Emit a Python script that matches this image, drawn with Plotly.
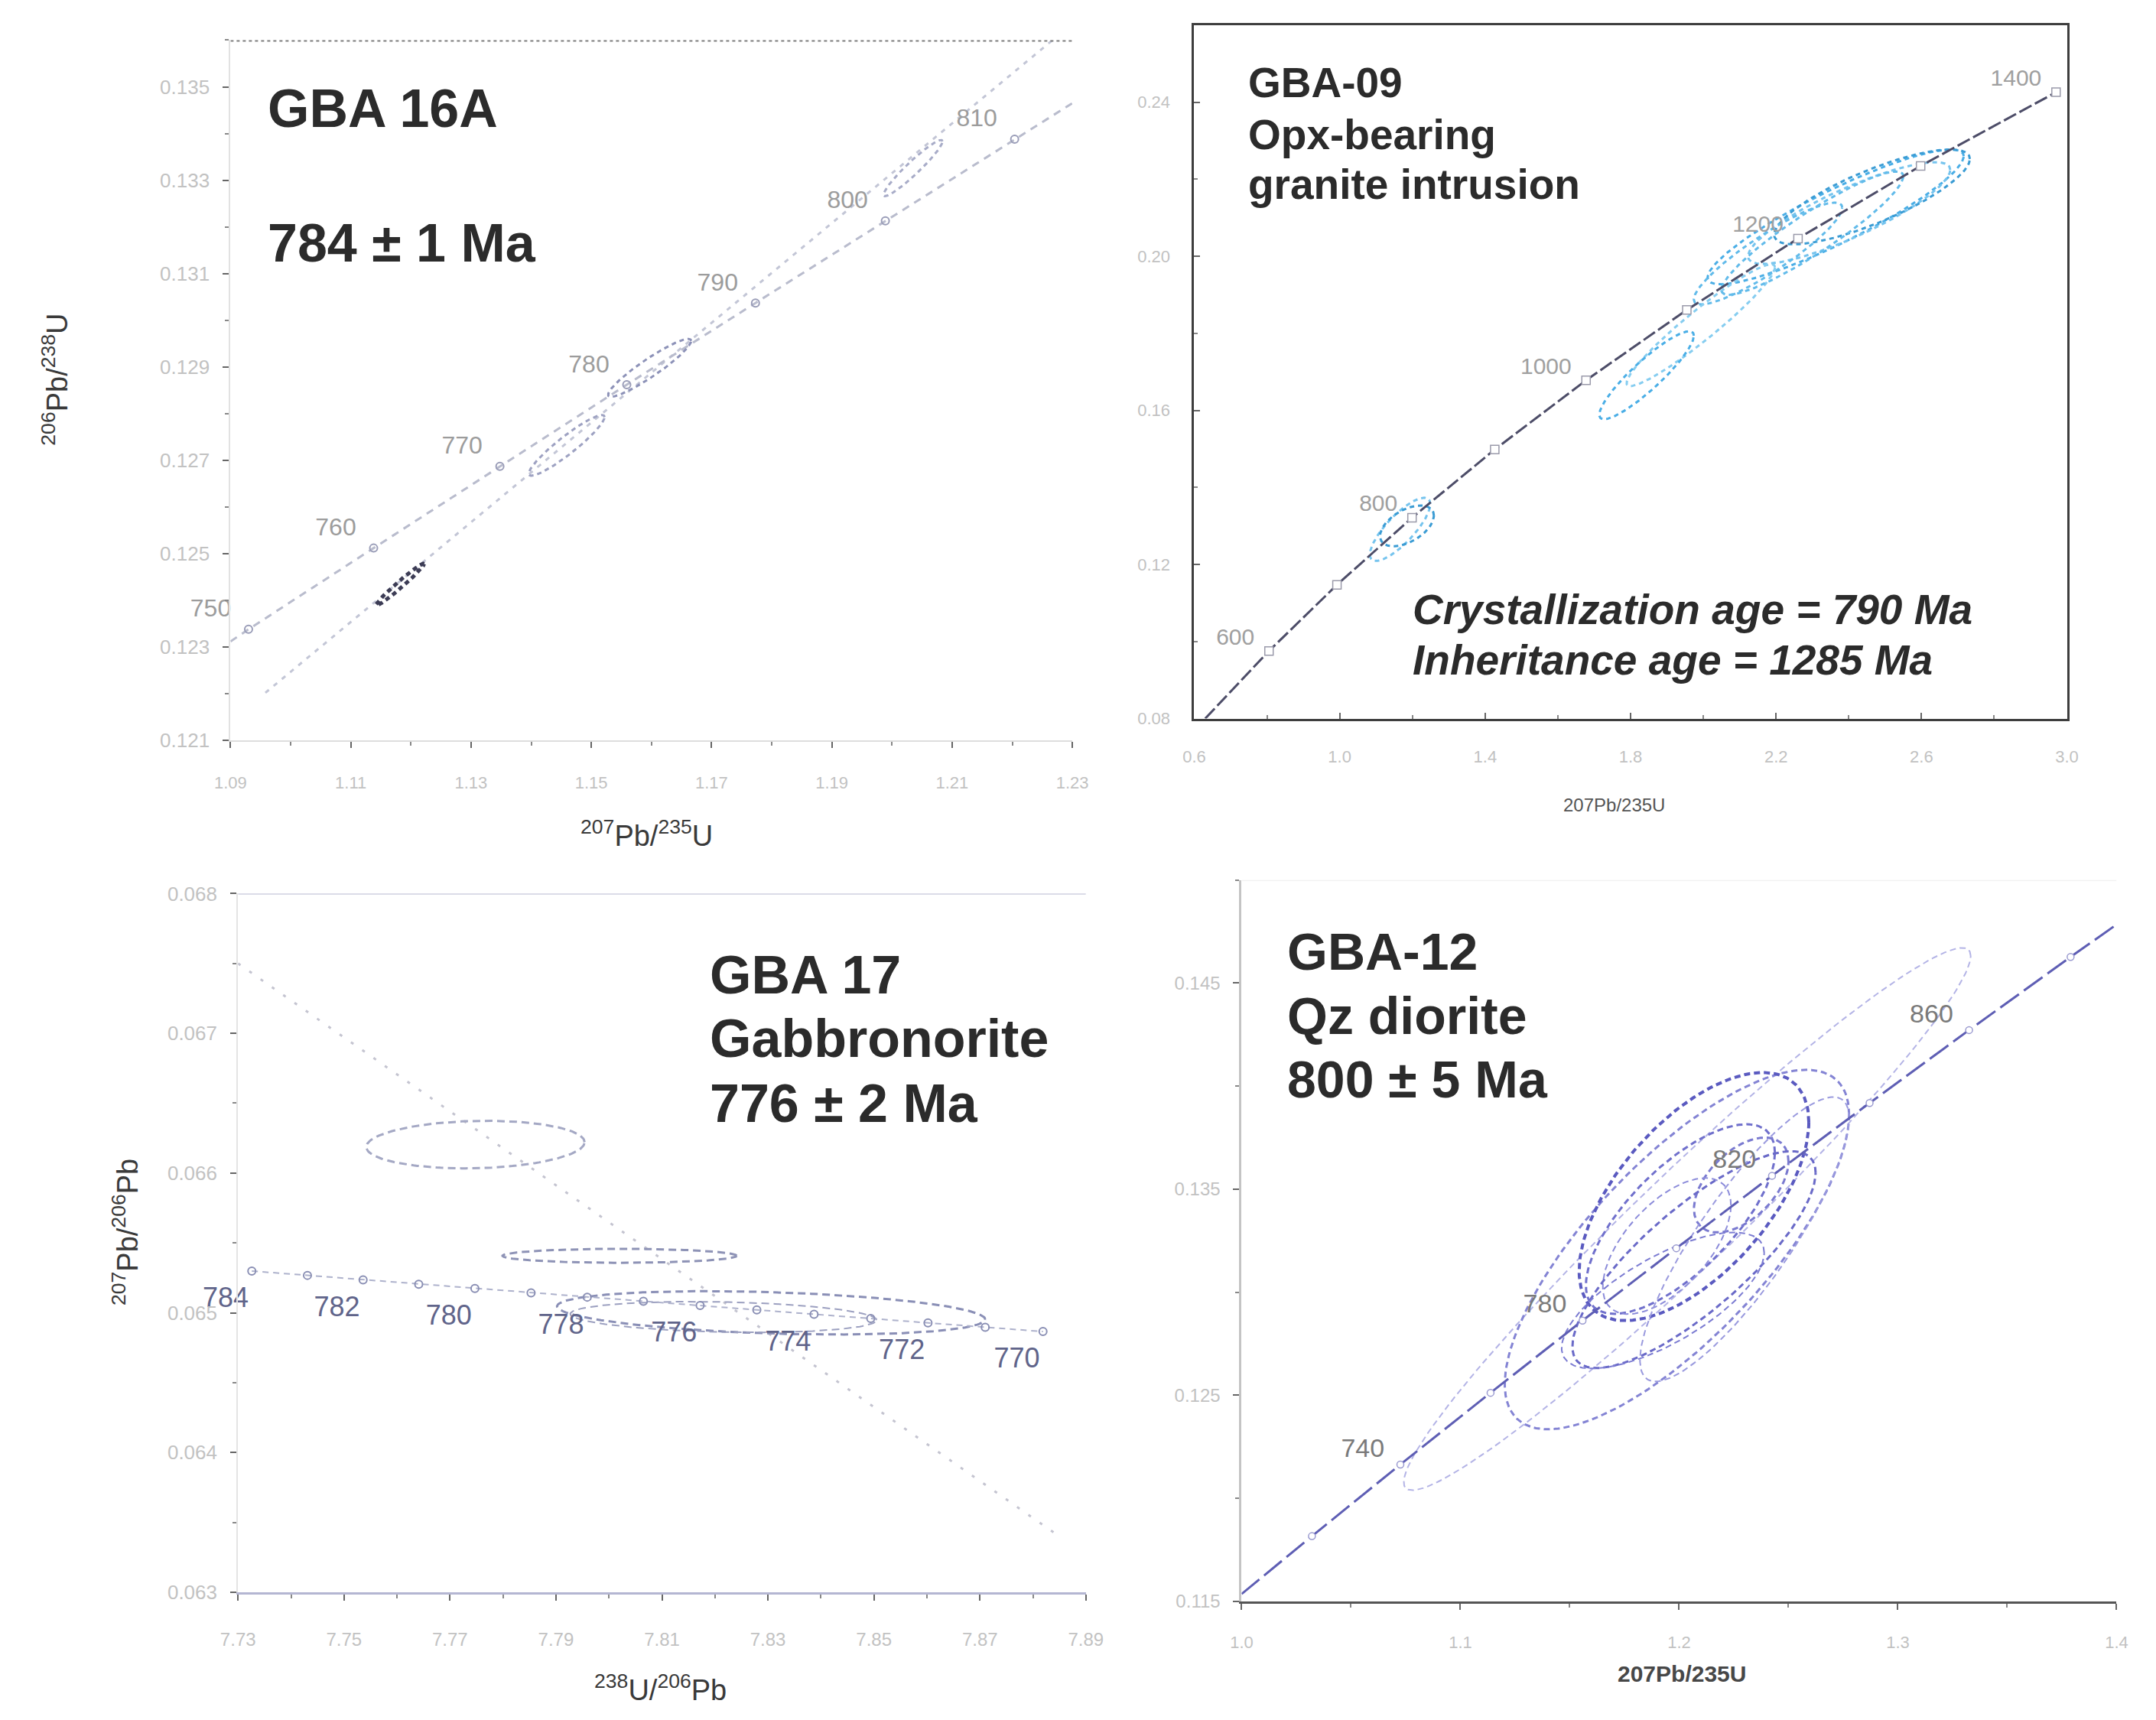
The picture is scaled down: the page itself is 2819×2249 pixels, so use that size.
import numpy as np
import plotly.graph_objects as go

W, H = 2819, 2249
FONT = "Liberation Sans, Arial, sans-serif"

# ---------------- GBA 16A (Wetherill concordia) ----------------
p1_ages = [750, 760, 770, 780, 790, 800, 810]
p1_cx = [1.0930, 1.1138, 1.1348, 1.1559, 1.1773, 1.1989, 1.2204]
p1_cy = [0.12338, 0.12512, 0.12687, 0.12862, 0.13037, 0.13213, 0.13388]
p1_line_x = [1.0900] + p1_cx + [1.2300]
p1_line_y = [0.12312] + p1_cy + [0.13465]
p1_disc_x = [1.0958, 1.2267]
p1_disc_y = [0.12202, 0.13600]
p1_ell_x0 = [1.1182, 1.1459, 1.1597, 1.2035]
p1_ell_y0 = [0.12434, 0.12732, 0.12898, 0.13326]
p1_ell_sx = [0.0040, 0.0063, 0.0069, 0.0049]
p1_ell_sy = [0.00045, 0.00065, 0.00062, 0.00060]
p1_ell_rho = [0.98, 0.93, 0.93, 0.95]

# ---------------- GBA-09 (Wetherill concordia) ----------------
p2_ages = [600, 700, 800, 900, 1000, 1100, 1200, 1300, 1400]
p2_cx = [0.8056, 0.9925, 1.1989, 1.4264, 1.6775, 1.9546, 2.2604, 2.5976, 2.9700]
p2_cy = [0.09754, 0.11470, 0.13213, 0.14983, 0.16779, 0.18606, 0.20459, 0.22343, 0.24256]
p2_label_ages = [600, 800, 1000, 1200, 1400]
p2_line_x = [0.6302] + p2_cx
p2_line_y = [0.0800] + p2_cy
p2_ell_x0 = [2.364, 2.401, 2.464, 2.178, 1.993, 1.844, 1.166, 1.185, 2.300]
p2_ell_y0 = [0.2102, 0.2112, 0.2154, 0.2007, 0.1821, 0.1691, 0.1291, 0.1300, 0.2060]
p2_ell_sx = [0.352, 0.278, 0.269, 0.204, 0.204, 0.130, 0.083, 0.074, 0.250]
p2_ell_sy = [0.0175, 0.0132, 0.0123, 0.0132, 0.0158, 0.0114, 0.0082, 0.0053, 0.0160]
p2_ell_rho = [0.90, 0.85, 0.80, 0.90, 0.95, 0.90, 0.80, 0.50, 0.92]

# ---------------- GBA 17 (Tera-Wasserburg) ----------------
p3_ages = [784, 783, 782, 781, 780, 779, 778, 777, 776, 775, 774, 773, 772, 771, 770]
p3_cx = [7.7326, 7.7431, 7.7536, 7.7641, 7.7747, 7.7853, 7.7959, 7.8065, 7.8172,
         7.8279, 7.8387, 7.8494, 7.8602, 7.8710, 7.8819]
p3_cy = [0.065299, 0.065268, 0.065236, 0.065205, 0.065174, 0.065143, 0.065112, 0.065082,
         0.065052, 0.065021, 0.064990, 0.064959, 0.064928, 0.064897, 0.064866]
p3_label_ages = [784, 782, 780, 778, 776, 774, 772, 770]
p3_disc_x = [7.730, 7.885]
p3_disc_y = [0.06750, 0.06340]
p3_ell_x0 = [7.7748, 7.8020, 7.8306, 7.8216]
p3_ell_y0 = [0.066204, 0.065408, 0.065000, 0.064970]
p3_ell_sx = [0.0206, 0.0221, 0.0404, 0.0289]
p3_ell_sy = [0.00017, 0.00005, 0.000155, 0.00011]
p3_ell_rho = [0.10, 0.0, -0.30, -0.20]

# ---------------- GBA-12 (Wetherill concordia) ----------------
p4_ages = [720, 740, 760, 780, 800, 820, 840, 860, 880]
p4_cx = [1.03214, 1.07257, 1.11380, 1.15585, 1.19873, 1.24247, 1.28708, 1.33257, 1.37897]
p4_cy = [0.118165, 0.121640, 0.125121, 0.128623, 0.132133, 0.135650, 0.139179, 0.142718, 0.146268]
p4_label_ages = [740, 780, 820, 860]
p4_line_x = [1.0000] + p4_cx + [1.4000]
p4_line_y = [0.11536] + p4_cy + [0.14784]
p4_ell_x0 = [1.2037, 1.1990, 1.2068, 1.2006, 1.2284, 1.1944, 1.2068, 1.2299, 1.1926]
p4_ell_y0 = [0.13355, 0.13207, 0.13464, 0.13355, 0.13520, 0.13224, 0.13158, 0.13257, 0.12960]
p4_ell_sx = [0.1296, 0.0787, 0.0525, 0.0432, 0.0216, 0.0293, 0.0556, 0.0478, 0.0463]
p4_ell_sy = [0.01316, 0.00872, 0.00602, 0.00460, 0.00230, 0.00330, 0.00526, 0.00690, 0.00330]
p4_ell_rho = [0.97, 0.75, 0.60, 0.70, 0.50, 0.60, 0.80, 0.85, 0.70]


def ellipse(x0, y0, sx, sy, rho, n=160):
    """Error ellipse outline from half-widths and the x-y correlation."""
    t = np.linspace(0, 2 * np.pi, n)
    x = x0 + sx * np.cos(t)
    y = y0 + sy * (rho * np.cos(t) + np.sqrt(1 - rho ** 2) * np.sin(t))
    return x, y


def px_x(p):
    return p / W


def px_y(p):
    return 1 - p / H


fig = go.Figure()


def add_ellipses(xs, ys, sxs, sys_, rhos, axes, colors, widths, dash):
    for i, (a, b, c, d, r) in enumerate(zip(xs, ys, sxs, sys_, rhos)):
        ex, ey = ellipse(a, b, c, d, r)
        fig.add_trace(go.Scatter(
            x=ex, y=ey, mode="lines", xaxis=axes[0], yaxis=axes[1],
            line=dict(color=colors[i % len(colors)], width=widths[i % len(widths)], dash=dash),
            hoverinfo="skip", showlegend=False))


def age_labels(ages, all_ages, cx, cy, dx, dy, axes, size, color, position="middle center"):
    """Age labels beside their concordia markers (allowed to spill past the axes)."""
    idx = [all_ages.index(a) for a in ages]
    fig.add_trace(go.Scatter(
        x=[cx[i] + dx for i in idx], y=[cy[i] + dy for i in idx],
        text=[str(a) for a in ages], mode="text", textposition=position,
        xaxis=axes[0], yaxis=axes[1], cliponaxis=False, hoverinfo="skip",
        textfont=dict(family=FONT, size=size, color=color), showlegend=False))


# ---- panel 1 ----
fig.add_trace(go.Scatter(x=p1_disc_x, y=p1_disc_y, mode="lines", xaxis="x", yaxis="y",
                         line=dict(color="#c3c6d6", width=3, dash="6px,8px"), showlegend=False))
fig.add_trace(go.Scatter(x=p1_line_x, y=p1_line_y, mode="lines", xaxis="x", yaxis="y",
                         line=dict(color="#b9bccd", width=3, dash="10px,8px"), showlegend=False))
add_ellipses(p1_ell_x0, p1_ell_y0, p1_ell_sx, p1_ell_sy, p1_ell_rho, ("x", "y"),
             ["#3c3c55", "#9ea2c2", "#8d92b8", "#a8acc8"], [5, 3, 3, 3], "6px,5px")
fig.add_trace(go.Scatter(x=p1_cx, y=p1_cy, mode="markers", xaxis="x", yaxis="y",
                         marker=dict(symbol="circle-open", size=10, color="#9a9db8", line=dict(width=2)),
                         showlegend=False))
age_labels(p1_ages, p1_ages, p1_cx, p1_cy, -0.0029, 0.0004, ("x", "y"), 32, "#9c9c9c", "middle left")

# ---- panel 2 ----
add_ellipses(p2_ell_x0, p2_ell_y0, p2_ell_sx, p2_ell_sy, p2_ell_rho, ("x2", "y2"),
             ["#4aaee6", "#76c4ee", "#3b9cd4", "#62bbea", "#86cdf0"], [3, 3, 3, 3], "6px,5px")
fig.add_trace(go.Scatter(x=p2_line_x, y=p2_line_y, mode="lines", xaxis="x2", yaxis="y2",
                         line=dict(color="#4d4d68", width=3, dash="18px,5px"), showlegend=False))
fig.add_trace(go.Scatter(x=p2_cx, y=p2_cy, mode="markers", xaxis="x2", yaxis="y2",
                         marker=dict(symbol="square", size=11, color="white",
                                     line=dict(color="#9a9aaa", width=1.5)),
                         showlegend=False))
age_labels(p2_label_ages, p2_ages, p2_cx, p2_cy, -0.04, 0.0032, ("x2", "y2"), 30, "#a0a0a0",
           "middle left")

# ---- panel 3 ----
fig.add_trace(go.Scatter(x=p3_disc_x, y=p3_disc_y, mode="lines", xaxis="x3", yaxis="y3",
                         line=dict(color="#c4c4d0", width=3, dash="4px,14px"), showlegend=False))
add_ellipses(p3_ell_x0, p3_ell_y0, p3_ell_sx, p3_ell_sy, p3_ell_rho, ("x3", "y3"),
             ["#a4a8c4", "#8e93b6", "#8a8fb6", "#9ca0c0"], [3, 3, 3, 2], "10px,6px")
fig.add_trace(go.Scatter(x=p3_cx, y=p3_cy, mode="lines+markers", xaxis="x3", yaxis="y3",
                         line=dict(color="#aeb2cc", width=2, dash="8px,6px"),
                         marker=dict(symbol="circle-open", size=10, color="#8a8fb4", line=dict(width=2)),
                         cliponaxis=False, showlegend=False))
age_labels(p3_label_ages, p3_ages, p3_cx, p3_cy, -0.0006, -0.00021, ("x3", "y3"), 36, "#60648a",
           "middle left")

# ---- panel 4 ----
add_ellipses(p4_ell_x0, p4_ell_y0, p4_ell_sx, p4_ell_sy, p4_ell_rho, ("x4", "y4"),
             ["#b4b4e6", "#8484d4", "#5a5ac0", "#7070cc", "#7a7ad0", "#8c8cda", "#6a6ac8",
              "#9a9ade", "#7c7cd2"], [2, 3, 4, 3, 3, 2, 3, 2, 2], "8px,5px")
fig.add_trace(go.Scatter(x=p4_line_x, y=p4_line_y, mode="lines", xaxis="x4", yaxis="y4",
                         line=dict(color="#5e5eb4", width=3, dash="30px,8px"), showlegend=False))
fig.add_trace(go.Scatter(x=p4_cx, y=p4_cy, mode="markers", xaxis="x4", yaxis="y4",
                         marker=dict(symbol="circle", size=9, color="white",
                                     line=dict(color="#9a9ad0", width=1.5)),
                         showlegend=False))
age_labels(p4_label_ages, p4_ages, p4_cx, p4_cy, -0.0172, 0.0007, ("x4", "y4"), 34, "#7a7a7a")


def axis(domain, rng, tick0, dtick, fmt, minor_dtick, anchor, linecolor, linewidth,
         ticks="outside", mirror=False, standoff=18, fsize=22):
    return dict(domain=domain, range=rng, tickmode="linear", tick0=tick0, dtick=dtick,
                tickformat=fmt, showgrid=False, zeroline=False, showline=True,
                linecolor=linecolor, linewidth=linewidth, mirror=mirror,
                ticks=ticks, ticklen=8, tickwidth=2, tickcolor="#666",
                minor=dict(tick0=tick0, dtick=minor_dtick, ticks=ticks, ticklen=5,
                           tickcolor="#888", tickwidth=2, showgrid=False),
                tickfont=dict(family=FONT, size=fsize, color="#c2c2c2"),
                anchor=anchor, ticklabelstandoff=standoff)


fig.update_layout(
    width=W, height=H, margin=dict(l=0, r=0, t=0, b=0),
    paper_bgcolor="white", plot_bgcolor="white", showlegend=False,
    xaxis=axis([px_x(283), px_x(1402)], [1.09, 1.23], 1.09, 0.02, ".2f", 0.01, "y", "#dedede", 2,
               standoff=26, fsize=22),
    yaxis=axis([px_y(966), px_y(38)], [0.121, 0.136], 0.121, 0.002, ".3f", 0.001, "x", "#e2e2e2", 2,
               standoff=12, fsize=26),
    xaxis2=axis([px_x(1564), px_x(2724)], [0.6, 3.0], 0.6, 0.4, ".1f", 0.2, "y2", "#3e3e3e", 3,
                ticks="inside", mirror=True, standoff=28, fsize=22),
    yaxis2=axis([px_y(937), px_y(18)], [0.08, 0.26], 0.08, 0.04, ".2f", 0.02, "x2", "#3e3e3e", 3,
                ticks="inside", mirror=True, standoff=24, fsize=22),
    xaxis3=axis([px_x(293), px_x(1420)], [7.73, 7.89], 7.73, 0.02, ".2f", 0.01, "y3", "#b4b6d2", 3,
                standoff=30, fsize=24),
    yaxis3=axis([px_y(2095), px_y(1169)], [0.063, 0.068], 0.063, 0.001, ".3f", 0.0005, "x3", "#e4e4e4", 2,
                standoff=12, fsize=26),
    xaxis4=axis([px_x(1627), px_x(2790)], [1.0, 1.4], 1.0, 0.1, ".1f", 0.05, "y4", "#555555", 3,
                standoff=24, fsize=22),
    yaxis4=axis([px_y(2107), px_y(1151)], [0.115, 0.150], 0.115, 0.01, ".3f", 0.005, "x4", "#c4c4c4", 3,
                standoff=12, fsize=24),
)

# dotted frame line on top of the GBA 16A panel, thin top rules elsewhere
fig.add_shape(type="line", xref="x", yref="y", x0=1.09, x1=1.23, y0=0.136, y1=0.136,
              line=dict(color="#7c7c7c", width=4, dash="dot"))
fig.add_shape(type="line", xref="x3", yref="y3", x0=7.73, x1=7.89, y0=0.068, y1=0.068,
              line=dict(color="#b8bad2", width=2))
fig.add_shape(type="line", xref="x4", yref="y4", x0=1.0, x1=1.4, y0=0.150, y1=0.150,
              line=dict(color="#ececec", width=2))

HEAD = "#2b2b2b"


def note(text, x, y, size, color=HEAD, xanchor="left", angle=0):
    fig.add_annotation(text=text, x=px_x(x), y=px_y(y), xref="paper", yref="paper",
                       xanchor=xanchor, yanchor="middle", showarrow=False, textangle=angle,
                       font=dict(family=FONT, size=size, color=color))


# sample headings
note("<b>GBA 16A</b>", 330, 129, 70)
note("<b>784 ± 1 Ma</b>", 330, 307, 70)
note("<b>GBA-09</b>", 1634, 94, 55)
note("<b>Opx-bearing</b>", 1634, 163, 55)
note("<b>granite intrusion</b>", 1634, 229, 55)
note("<b><i>Crystallization age = 790 Ma</i></b>", 1852, 793, 55)
note("<b><i>Inheritance age = 1285 Ma</i></b>", 1852, 859, 55)
note("<b>GBA 17</b>", 918, 1277, 70)
note("<b>Gabbronorite</b>", 918, 1361, 70)
note("<b>776 ± 2 Ma</b>", 918, 1447, 70)
note("<b>GBA-12</b>", 1685, 1246, 68)
note("<b>Qz diorite</b>", 1685, 1331, 68)
note("<b>800 ± 5 Ma</b>", 1685, 1415, 68)

# axis titles
note("<sup>206</sup>Pb/<sup>238</sup>U", 50, 488, 38, "#3a3a3a", "center", -90)
note("<sup>207</sup>Pb/<sup>235</sup>U", 836, 1090, 38, "#3a3a3a", "center")
note("207Pb/235U", 2122, 1052, 24, "#555555", "center")
note("<sup>207</sup>Pb/<sup>206</sup>Pb", 144, 1618, 38, "#3a3a3a", "center", -90)
note("<sup>238</sup>U/<sup>206</sup>Pb", 854, 2222, 38, "#3a3a3a", "center")
note("<b>207Pb/235U</b>", 2212, 2203, 30, "#474747", "center")

fig.write_html("out.html")
